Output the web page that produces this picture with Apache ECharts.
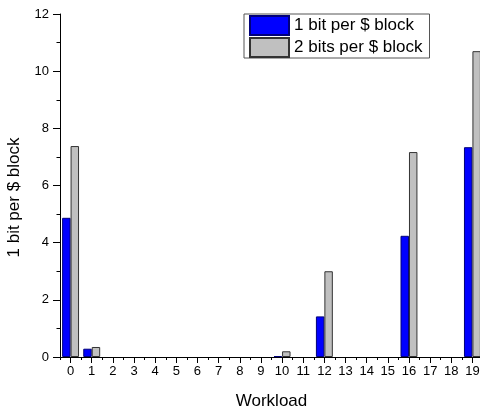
<!DOCTYPE html>
<html>
<head>
<meta charset="utf-8">
<script src="https://cdn.jsdelivr.net/npm/echarts@6/dist/echarts.min.js"></script>
<style>
  html, body { margin: 0; padding: 0; background: #fff; }
  #chart { width: 480px; height: 411px; }
</style>
</head>
<body>
<div id="chart"></div>
<script>
// Workload ids along the x axis
const workloads = ['0','1','2','3','4','5','6','7','8','9','10','11','12','13','14','15','16','17','18','19'];

// Values per workload
const oneBitPerBlock  = [4.87, 0.29, 0, 0, 0, 0, 0, 0, 0, 0, 0.03, 0, 1.42, 0, 0, 0, 4.24, 0, 0, 7.34];
const twoBitsPerBlock = [7.38, 0.35, 0, 0, 0, 0, 0, 0, 0, 0, 0.20, 0, 3.00, 0, 0, 0, 7.17, 0, 0, 10.70];

const seriesNames = ['1 bit per $ block', '2 bits per $ block'];

const FONT = '"Liberation Sans", Arial, sans-serif';

// empty workloads get no bar outline on the baseline
const asBars = arr => arr.map(v => (v === 0 ? '-' : v));

const chart = echarts.init(document.getElementById('chart'), null, { renderer: 'canvas' });

chart.setOption({
  animation: false,
  backgroundColor: '#ffffff',
  grid: { left: 60, right: -3, top: 14, bottom: 54, containLabel: false, outerBoundsMode: 'none' },
  legend: {
    orient: 'vertical',
    left: 244,
    top: 14,
    padding: [1, 7, 0, 5],
    itemWidth: 39,
    itemHeight: 19,
    itemGap: 1,
    borderColor: '#555555',
    borderWidth: 1,
    icon: 'rect',
    textStyle: { fontFamily: FONT, fontSize: 17, lineHeight: 19, color: '#000' },
    data: seriesNames
  },
  xAxis: [
    {
      type: 'category',
      data: workloads,
      position: 'bottom',
      boundaryGap: true,
      name: 'Workload',
      nameLocation: 'middle',
      nameGap: 36,
      nameTextStyle: { fontFamily: FONT, fontSize: 17, color: '#000' },
      axisLine: { show: true, lineStyle: { color: '#000', width: 1 } },
      axisTick: { show: true, alignWithLabel: true, length: 6, lineStyle: { color: '#000' } },
      axisLabel: { fontFamily: FONT, fontSize: 13, color: '#000', margin: 8, interval: 0 },
      splitLine: { show: false }
    },
    {
      // boundary ticks between workloads
      type: 'category',
      data: workloads,
      position: 'bottom',
      boundaryGap: true,
      axisLine: { show: false },
      axisTick: { show: true, alignWithLabel: false, interval: 0, length: 3, lineStyle: { color: '#000' } },
      axisLabel: { show: false },
      splitLine: { show: false }
    }
  ],
  yAxis: {
    type: 'value',
    min: 0,
    max: 12,
    interval: 2,
    name: '1 bit per $ block',
    nameLocation: 'middle',
    nameGap: 37,
    nameTextStyle: { fontFamily: FONT, fontSize: 17, color: '#000', padding: [0, 24, 0, 0] },
    axisLine: { show: true, lineStyle: { color: '#000', width: 1 } },
    axisTick: { show: true, length: 7, lineStyle: { color: '#000' } },
    minorTick: { show: true, splitNumber: 2, length: 3.5, lineStyle: { color: '#000' } },
    axisLabel: { fontFamily: FONT, fontSize: 13, color: '#000', margin: 11 },
    splitLine: { show: false },
    minorSplitLine: { show: false }
  },
  series: [
    {
      name: seriesNames[0],
      type: 'bar',
      xAxisIndex: 0,
      data: asBars(oneBitPerBlock),
      barGap: '0%',
      barCategoryGap: '20%',
      itemStyle: { color: '#0000ff', borderColor: '#00007a', borderWidth: 1 }
    },
    {
      name: seriesNames[1],
      type: 'bar',
      xAxisIndex: 0,
      data: asBars(twoBitsPerBlock),
      barGap: '0%',
      barCategoryGap: '20%',
      itemStyle: { color: '#c0c0c0', borderColor: '#333333', borderWidth: 1 }
    }
  ]
});
</script>
</body>
</html>
